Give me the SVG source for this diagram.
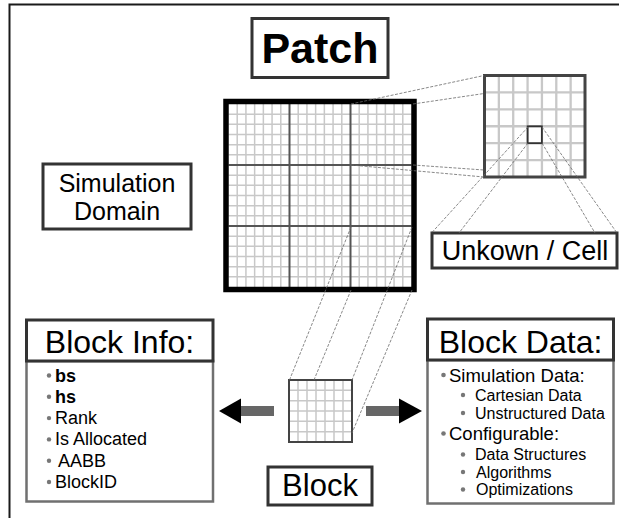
<svg xmlns="http://www.w3.org/2000/svg" width="619" height="518" viewBox="0 0 619 518">
<defs>
<style>
text{font-family:"Liberation Sans",Arial,sans-serif;fill:#000}
.box{fill:#fff;stroke:#333;stroke-width:3}
.lower{fill:#fff;stroke:#707070;stroke-width:2.5}
.cell{stroke:#c8c8c8;fill:none}
.div{stroke:#555;stroke-width:2;fill:none}
.dash{stroke:#6a6a6a;stroke-width:0.8;stroke-dasharray:3 1.5;fill:none}
.bul{fill:#777}
.shaft{fill:#666}
.head{fill:#000}
</style>
</defs>
<rect width="619" height="518" fill="#fff"/>
<path d="M9.5,520 V4.5 H620" fill="none" stroke="#1a1a1a" stroke-width="2"/>

<g id="patch-title">
<rect class="box" x="252" y="18.5" width="136" height="59" stroke-width="3.5"/>
<text x="320" y="63" font-size="43" font-weight="bold" text-anchor="middle">Patch</text>
</g>

<g id="simulation-domain">
<rect class="box" x="43" y="164" width="148" height="65"/>
<text x="117" y="191.5" font-size="25" text-anchor="middle">Simulation</text>
<text x="117" y="219.5" font-size="25" text-anchor="middle">Domain</text>
</g>

<g id="main-grid">
<rect x="226" y="101.5" width="188" height="188" fill="#fff"/>
<path class="cell" stroke-width="1.5" d="M237.21,104V287 M245.93,104V287 M254.64,104V287 M263.36,104V287 M272.07,104V287 M280.79,104V287 M298.21,104V287 M306.93,104V287 M315.64,104V287 M324.36,104V287 M333.07,104V287 M341.79,104V287 M359.21,104V287 M367.93,104V287 M376.64,104V287 M385.36,104V287 M394.07,104V287 M402.79,104V287 M228.5,114.17H411.5 M228.5,124.33H411.5 M228.5,134.5H411.5 M228.5,144.67H411.5 M228.5,154.83H411.5 M228.5,175.17H411.5 M228.5,185.33H411.5 M228.5,195.5H411.5 M228.5,205.67H411.5 M228.5,215.83H411.5 M228.5,236.17H411.5 M228.5,246.33H411.5 M228.5,256.5H411.5 M228.5,266.67H411.5 M228.5,276.83H411.5"/>
<path class="div" d="M289.5,104V287 M350.5,104V287 M228.5,165H411.5 M228.5,226H411.5"/>
<rect x="226" y="101.5" width="188" height="188" fill="none" stroke="#000" stroke-width="5.5"/>
</g>

<g id="zoomed-patch">
<rect x="484.5" y="75.5" width="100.5" height="101.5" fill="#fff"/>
<path class="cell" stroke-width="2.3" d="M498.86,75.5V177 M513.21,75.5V177 M527.57,75.5V177 M541.93,75.5V177 M556.29,75.5V177 M570.64,75.5V177 M484.5,92.42H585 M484.5,109.33H585 M484.5,126.25H585 M484.5,143.17H585 M484.5,160.08H585"/>
<rect x="484.5" y="75.5" width="100.5" height="101.5" fill="none" stroke="#444" stroke-width="3"/>
<rect x="527.6" y="126.3" width="14.3" height="16.9" fill="none" stroke="#333" stroke-width="1.8"/>
</g>

<g id="unknown-cell">
<rect class="box" x="432" y="233" width="185" height="35"/>
<text x="525" y="260" font-size="27" text-anchor="middle">Unkown / Cell</text>
</g>

<g id="block">
<rect x="289" y="380" width="63" height="62" fill="#fff"/>
<path class="cell" stroke-width="1.5" d="M298,380V442 M307,380V442 M316,380V442 M325,380V442 M334,380V442 M343,380V442 M289,390.33H352 M289,400.67H352 M289,411H352 M289,421.33H352 M289,431.67H352"/>
<rect x="289" y="380" width="63" height="62" fill="none" stroke="#444" stroke-width="2"/>
</g>

<g id="block-label">
<rect class="box" x="268" y="467" width="104" height="38"/>
<text x="320" y="496" font-size="31" text-anchor="middle">Block</text>
</g>

<g id="block-info">
<rect class="lower" x="26.5" y="361" width="186.5" height="140.5"/>
<rect class="box" x="26.5" y="320" width="186.5" height="41"/>
<text x="119.5" y="353" font-size="32" text-anchor="middle">Block Info:</text>
<g font-size="18">
<circle class="bul" cx="49" cy="375.5" r="2.2"/><text x="55" y="381.5" font-weight="bold">bs</text>
<circle class="bul" cx="49" cy="396.8" r="2.2"/><text x="55" y="402.8" font-weight="bold">hs</text>
<circle class="bul" cx="49" cy="418.1" r="2.2"/><text x="55" y="424.1">Rank</text>
<circle class="bul" cx="49" cy="439.4" r="2.2"/><text x="55" y="445.4">Is Allocated</text>
<circle class="bul" cx="49" cy="460.7" r="2.2"/><text x="58" y="466.7">AABB</text>
<circle class="bul" cx="49" cy="482" r="2.2"/><text x="55" y="488">BlockID</text>
</g>
</g>

<g id="block-data">
<rect class="lower" x="427.5" y="360" width="186" height="143.5"/>
<rect class="box" x="427.5" y="319" width="186" height="41"/>
<text x="520.5" y="353" font-size="32" text-anchor="middle">Block Data:</text>
<circle class="bul" cx="443.5" cy="375" r="2.3"/><text x="449" y="381.5" font-size="18.5">Simulation Data:</text>
<circle class="bul" cx="463" cy="395" r="2.2"/><text x="475" y="400.5" font-size="16">Cartesian Data</text>
<circle class="bul" cx="463" cy="413" r="2.2"/><text x="475" y="418.5" font-size="16">Unstructured Data</text>
<circle class="bul" cx="443.5" cy="433.5" r="2.3"/><text x="449" y="440" font-size="18.5">Configurable:</text>
<circle class="bul" cx="463" cy="454.5" r="2.2"/><text x="475" y="460" font-size="16">Data Structures</text>
<circle class="bul" cx="463" cy="472" r="2.2"/><text x="476" y="477.5" font-size="16">Algorithms</text>
<circle class="bul" cx="463" cy="489.5" r="2.2"/><text x="476" y="495" font-size="16">Optimizations</text>
</g>

<g id="connectors">
<path class="dash" d="M351,104 L484,75.5 M413,104 L484,93.5 M351,165 L484,177 M413,165 L484,170"/>
<path class="dash" d="M528,127 L431.5,233 M528,143 L459,233 M542,127 L617,233 M542,143 L595,233"/>
<path class="dash" d="M351,227 L289.5,380 M351,290 L314,380 M412,227 L352,380 M412,290 L352,433"/>
<rect class="shaft" x="240" y="406" width="34" height="10"/>
<polygon class="head" points="219,411 241,398.5 241,423.5"/>
<rect class="shaft" x="366" y="406" width="34" height="10"/>
<polygon class="head" points="422,411 399,398.5 399,423.5"/>
</g>
</svg>
